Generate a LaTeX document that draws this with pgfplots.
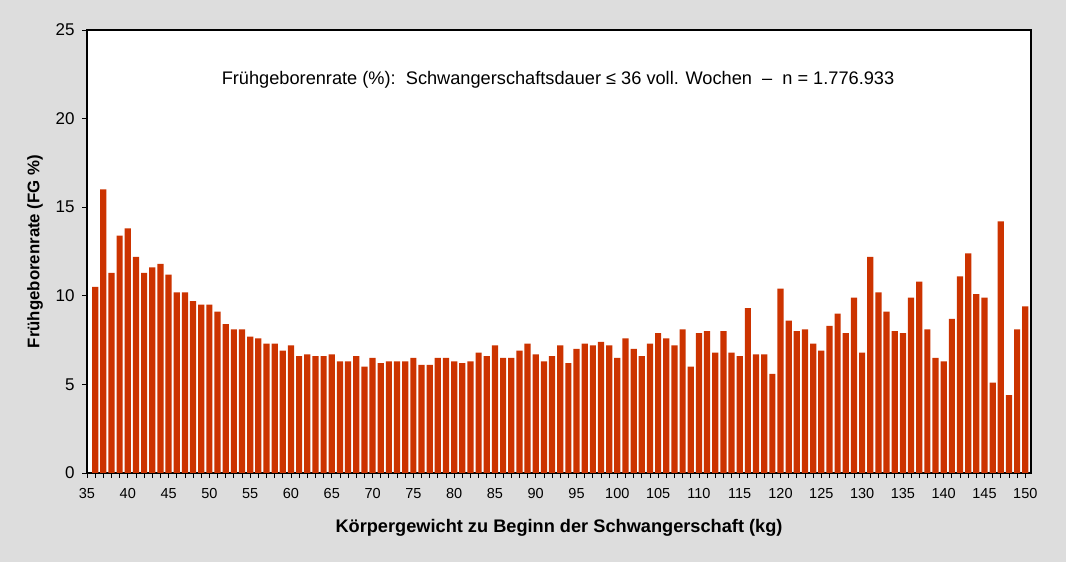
\documentclass[border=0pt]{standalone}
\usepackage{fontspec}
\setmainfont{Liberation Sans}
\usepackage{pgfplots}
\pgfplotsset{compat=1.18}
\definecolor{barred}{HTML}{CC3300}
\definecolor{bggrey}{HTML}{DDDDDD}

\pgfplotstableread{
kg rate
36 10.5
37 16.0
38 11.3
39 13.4
40 13.8
41 12.2
42 11.3
43 11.6
44 11.8
45 11.2
46 10.2
47 10.2
48 9.7
49 9.5
50 9.5
51 9.1
52 8.4
53 8.1
54 8.1
55 7.7
56 7.6
57 7.3
58 7.3
59 6.9
60 7.2
61 6.6
62 6.7
63 6.6
64 6.6
65 6.7
66 6.3
67 6.3
68 6.6
69 6.0
70 6.5
71 6.2
72 6.3
73 6.3
74 6.3
75 6.5
76 6.1
77 6.1
78 6.5
79 6.5
80 6.3
81 6.2
82 6.3
83 6.8
84 6.6
85 7.2
86 6.5
87 6.5
88 6.9
89 7.3
90 6.7
91 6.3
92 6.6
93 7.2
94 6.2
95 7.0
96 7.3
97 7.2
98 7.4
99 7.2
100 6.5
101 7.6
102 7.0
103 6.6
104 7.3
105 7.9
106 7.6
107 7.2
108 8.1
109 6.0
110 7.9
111 8.0
112 6.8
113 8.0
114 6.8
115 6.6
116 9.3
117 6.7
118 6.7
119 5.6
120 10.4
121 8.6
122 8.0
123 8.1
124 7.3
125 6.9
126 8.3
127 9.0
128 7.9
129 9.9
130 6.8
131 12.2
132 10.2
133 9.1
134 8.0
135 7.9
136 9.9
137 10.8
138 8.1
139 6.5
140 6.3
141 8.7
142 11.1
143 12.4
144 10.1
145 9.9
146 5.1
147 14.2
148 4.4
149 8.1
150 9.4
}\fgdata

\begin{document}
\begin{tikzpicture}[x=1pt,y=1pt]
\fill[bggrey] (0,0) rectangle (1066,562);
\begin{axis}[
  at={(87pt,89pt)}, anchor=south west,
  width=944pt, height=443pt, scale only axis,
  axis background/.style={fill=white},
  xmin=35, xmax=150.7, ymin=0, ymax=25,
  ybar, bar width=6.2pt,
  xtick={35,40,...,150},
  minor xtick={35,...,150},
  ytick={0,5,...,25},
  tick align=outside,
  xtick pos=bottom, ytick pos=left,
  major tick length=5pt, minor tick length=5pt,
  tick style={black, line width=0.8pt},
  axis line style={black, line width=1.5pt},
  /pgf/number format/assume math mode=true,
  xticklabel style={font=\fontsize{14.5}{16}\selectfont, yshift=-7pt},
  yticklabel style={font=\fontsize{17}{19}\selectfont, xshift=-4pt},
  xlabel={Körpergewicht zu Beginn der Schwangerschaft (kg)},
  ylabel={Frühgeborenrate (FG \%)},
  xlabel style={font=\fontsize{18.2}{21}\selectfont\bfseries, at={(axis description cs:0.5,-0.124)}, anchor=center},
  ylabel style={font=\fontsize{16.8}{19}\selectfont\bfseries, at={(axis description cs:-0.055,0.5)}, anchor=center, rotate=0},
]
\addplot[fill=barred, draw=none] table[x=kg, y=rate] {\fgdata};
\node[font=\fontsize{18.2}{21}\selectfont] at (axis description cs:0.499,0.888)
  {Frühgeborenrate (\%):\ \ Schwangerschaftsdauer ≤ 36 voll. Wochen\ \ –\ \ n = 1.776.933};
\end{axis}
\end{tikzpicture}
\end{document}
